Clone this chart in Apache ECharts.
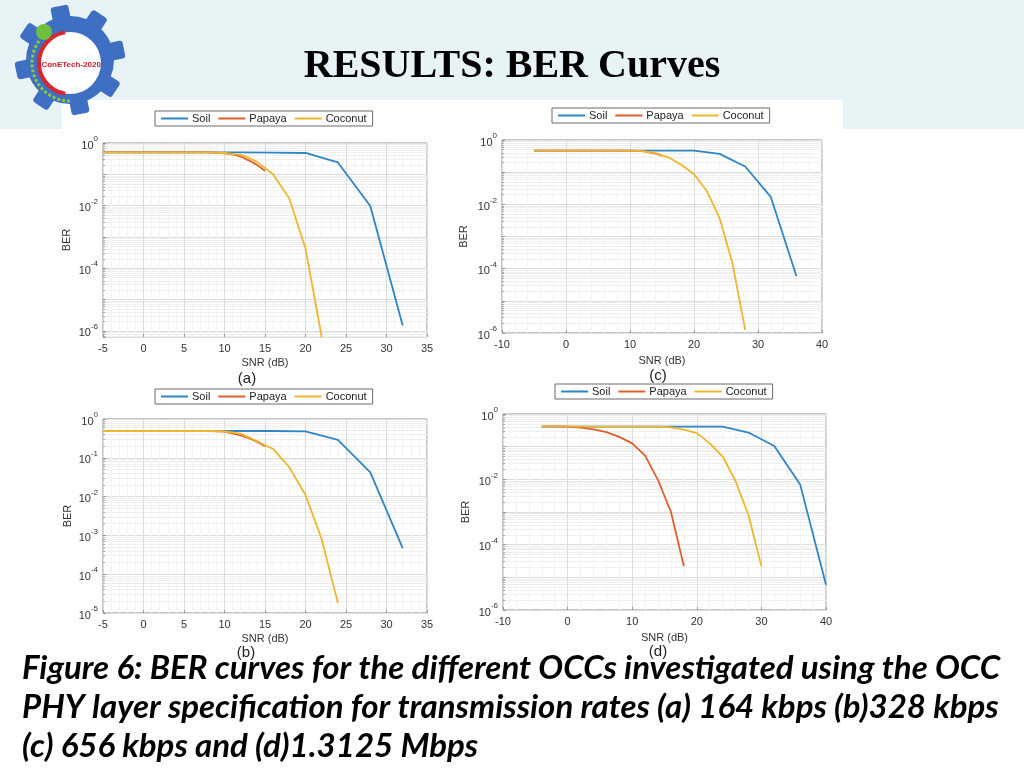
<!DOCTYPE html>
<html><head><meta charset="utf-8">
<script src="https://cdn.jsdelivr.net/npm/echarts@6/dist/echarts.min.js"></script>
<style>html,body{margin:0;padding:0;background:#fff}#c{width:1024px;height:768px}</style>
</head><body><div id="c"></div>
<script>
// ---------- data ----------
const seriesNames = ['Soil', 'Papaya', 'Coconut'];
const panelLabels = ['(a)', '(b)', '(c)', '(d)'];
const xTicksAB = [-5, 0, 5, 10, 15, 20, 25, 30, 35];
const xTicksCD = [-10, 0, 10, 20, 30, 40];

// (a) 164 kbps
const snrA_soil = [-5, 0, 4, 8, 12, 16, 20, 24, 28, 32];
const berA_soil = [0.5, 0.5, 0.5, 0.5, 0.5, 0.49, 0.48, 0.24, 0.0098, 1.5e-6];
const snrA_papaya = [-5, 0, 5, 8, 10, 11, 12, 13, 14, 15];
const berA_papaya = [0.5, 0.5, 0.5, 0.5, 0.47, 0.43, 0.37, 0.28, 0.2, 0.13];
const snrA_coconut = [-5, 0, 5, 8, 10, 12, 13, 14, 15, 16, 18, 20, 22];
const berA_coconut = [0.5, 0.5, 0.5, 0.5, 0.48, 0.42, 0.34, 0.25, 0.16, 0.1, 0.017, 4.3e-4, 6.4e-7];

// (b) 328 kbps
const snrB_soil = [-5, 0, 4, 8, 12, 16, 20, 24, 28, 32];
const berB_soil = [0.49, 0.49, 0.49, 0.49, 0.49, 0.49, 0.48, 0.29, 0.042, 4.7e-4];
const snrB_papaya = [-5, 0, 5, 8, 10, 12, 13, 14, 15];
const berB_papaya = [0.49, 0.49, 0.49, 0.49, 0.47, 0.38, 0.32, 0.26, 0.2];
const snrB_coconut = [-5, 0, 5, 8, 10, 12, 14, 15, 16, 18, 20, 22, 24];
const berB_coconut = [0.49, 0.49, 0.49, 0.49, 0.48, 0.42, 0.27, 0.21, 0.17, 0.057, 0.011, 8e-4, 1.8e-5];

// (c) 656 kbps
const snrC_soil = [-5, 0, 4, 8, 12, 16, 20, 24, 28, 32, 36];
const berC_soil = [0.47, 0.47, 0.47, 0.47, 0.47, 0.47, 0.47, 0.37, 0.15, 0.017, 5.9e-5];
const snrC_papaya = [-5, 0, 5, 10, 12, 14, 15];
const berC_papaya = [0.47, 0.47, 0.47, 0.47, 0.45, 0.38, 0.32];
const snrC_coconut = [-5, 0, 5, 10, 12, 14, 16, 18, 20, 22, 24, 26, 28];
const berC_coconut = [0.47, 0.47, 0.47, 0.47, 0.45, 0.39, 0.29, 0.17, 0.088, 0.026, 3.7e-3, 1.5e-4, 1.25e-6];

// (d) 1.3125 Mbps
const snrD_soil = [-4, 0, 4, 8, 12, 16, 20, 24, 28, 32, 36, 40];
const berD_soil = [0.41, 0.41, 0.41, 0.41, 0.41, 0.41, 0.41, 0.41, 0.27, 0.105, 7e-3, 5.9e-6];
const snrD_papaya = [-4, -2, 0, 2, 4, 6, 8, 10, 12, 14, 16, 18];
const berD_papaya = [0.42, 0.42, 0.41, 0.38, 0.34, 0.28, 0.2, 0.126, 0.053, 9.5e-3, 1e-3, 2.2e-5];
const snrD_coconut = [-4, 0, 4, 8, 12, 14, 16, 18, 20, 22, 24, 26, 28, 30];
const berD_coconut = [0.42, 0.42, 0.41, 0.41, 0.41, 0.41, 0.39, 0.33, 0.26, 0.126, 0.05, 8.9e-3, 8e-4, 2.2e-5];

const yMinA = 6.4e-7, yMinB = 1e-5, yMinC = 1e-6, yMinD = 1e-6;

// ---------- build ----------
const colors = ['#2f86c6', '#df5f2c', '#efb630'];
const pair = (xs, ys) => xs.map((x, i) => [x, ys[i]]);
const panels = [
  {grid: {left: 103, top: 143, width: 324, height: 194}, xr: xTicksAB, ymin: yMinA, even: true, legend: {left: 155, top: 111},
   data: [pair(snrA_soil, berA_soil), pair(snrA_papaya, berA_papaya), pair(snrA_coconut, berA_coconut)],
   lab: [247, 379], nameGapY: 31, nameGapX: 20},
  {grid: {left: 103, top: 419, width: 324, height: 194}, xr: xTicksAB, ymin: yMinB, even: false, legend: {left: 155, top: 389},
   data: [pair(snrB_soil, berB_soil), pair(snrB_papaya, berB_papaya), pair(snrB_coconut, berB_coconut)],
   lab: [246, 653], nameGapY: 30, nameGapX: 20},
  {grid: {left: 502, top: 140, width: 320, height: 193}, xr: xTicksCD, ymin: yMinC, even: true, legend: {left: 552, top: 108},
   data: [pair(snrC_soil, berC_soil), pair(snrC_papaya, berC_papaya), pair(snrC_coconut, berC_coconut)],
   lab: [658, 376], nameGapY: 33, nameGapX: 22},
  {grid: {left: 503, top: 414, width: 323, height: 196}, xr: xTicksCD, ymin: yMinD, even: true, legend: {left: 555, top: 384},
   data: [pair(snrD_soil, berD_soil), pair(snrD_papaya, berD_papaya), pair(snrD_coconut, berD_coconut)],
   lab: [658, 652], nameGapY: 32, nameGapX: 22}
];

const axisFont = '"Liberation Sans", Arial, sans-serif';
const grids = [], xAxes = [], yAxes = [], series = [], legends = [], graphics = [];

panels.forEach((p, gi) => {
  grids.push(Object.assign({show: true, backgroundColor: '#ffffff', borderColor: '#8c8c8c', borderWidth: 1}, p.grid));
  const xmin = p.xr[0], xmax = p.xr[p.xr.length - 1];
  xAxes.push({
    type: 'value', gridIndex: gi, min: xmin, max: xmax, interval: p.xr[1] - p.xr[0],
    name: 'SNR (dB)', nameLocation: 'middle', nameGap: p.nameGapX,
    nameTextStyle: {fontFamily: axisFont, fontSize: 11, color: '#333'},
    axisLine: {show: false, onZero: false}, axisTick: {show: true, inside: true, length: 3, lineStyle: {color: '#999'}},
    axisLabel: {fontFamily: axisFont, fontSize: 11, color: '#333', margin: 6},
    splitLine: {show: true, lineStyle: {color: '#dcdcdc', width: 1}},
    minorTick: {show: false, splitNumber: 5},
    minorSplitLine: {show: true, lineStyle: {color: '#f3f3f3', width: 1}}
  });
  yAxes.push({
    type: 'log', logBase: 10, gridIndex: gi, min: p.ymin, max: 1,
    name: 'BER', nameLocation: 'middle', nameGap: p.nameGapY, nameRotate: 90,
    nameTextStyle: {fontFamily: axisFont, fontSize: 11, color: '#333'},
    axisLine: {show: false, onZero: false}, axisTick: {show: true, inside: true, length: 3, lineStyle: {color: '#999'}},
    axisLabel: {
      margin: 5,
      formatter: (v) => {
        const e = Math.log10(v), r = Math.round(e);
        if (Math.abs(e - r) > 1e-6) return '';
        if (p.even && r % 2 !== 0) return '';
        return '{b|10}{s|' + r + '}';
      },
      rich: {
        b: {fontFamily: axisFont, fontSize: 11, color: '#333', lineHeight: 16, verticalAlign: 'bottom'},
        s: {fontFamily: axisFont, fontSize: 8, color: '#333', lineHeight: 9, verticalAlign: 'top'}
      }
    },
    splitLine: {show: true, lineStyle: {color: '#dcdcdc', width: 1}},
    minorTick: {show: true, splitNumber: 9, length: 2, lineStyle: {color: '#aaa'}},
    minorSplitLine: {show: true, lineStyle: {color: '#efefef', width: 1}}
  });
  p.data.forEach((d, si) => {
    series.push({
      type: 'line', name: seriesNames[si], xAxisIndex: gi, yAxisIndex: gi, data: d,
      showSymbol: false, symbol: 'none', clip: true,
      lineStyle: {color: colors[si], width: 1.8}, itemStyle: {color: colors[si]}, z: 3 + si
    });
  });
  legends.push({
    left: p.legend.left, top: p.legend.top, orient: 'horizontal', data: seriesNames,
    icon: 'rect', itemWidth: 27, itemHeight: 2, itemGap: 8,
    padding: [2, 6, 2, 6], backgroundColor: '#ffffff', borderColor: '#6a6a6a', borderWidth: 1,
    selectedMode: false,
    textStyle: {fontFamily: axisFont, fontSize: 11, color: '#222', padding: [0, 0, 0, -1]}
  });
  graphics.push({type: 'text', x: p.lab[0], y: p.lab[1], z: 50,
    style: {text: panelLabels[gi], fill: '#222', font: '15px ' + axisFont, align: 'center', verticalAlign: 'middle'}});
});

// slide decoration: header band, white figure panel, logo, title, caption
const deco = [
  {type: 'rect', z: -20, shape: {x: 0, y: 0, width: 1024, height: 129}, style: {fill: '#e8f3f6'}},
  {type: 'rect', z: -17, shape: {x: 62, y: 100, width: 781, height: 40}, style: {fill: '#ffffff'}}
];
// logo gear
const teeth = [];
for (let k = 0; k < 8; k++) {
  teeth.push({type: 'rect', rotation: k * Math.PI / 4 + 0.2, shape: {x: -9, y: -55, width: 18, height: 20, r: 3}, style: {fill: '#3f6fc2'}});
}
deco.push({
  type: 'group', x: 70, y: 60, z: -18,
  children: teeth.concat([
    {type: 'circle', shape: {cx: 0, cy: 0, r: 44}, style: {fill: '#3f6fc2'}},
    {type: 'circle', shape: {cx: 0, cy: 3, r: 31}, style: {fill: '#ffffff'}},
    {type: 'arc', shape: {cx: 0, cy: 3, r: 31, startAngle: Math.PI * 0.55, endAngle: Math.PI * 1.45}, style: {stroke: '#d8262c', lineWidth: 4, fill: null}},
    {type: 'arc', shape: {cx: 0, cy: 3, r: 38, startAngle: Math.PI * 0.5, endAngle: Math.PI * 1.2}, style: {stroke: '#8cc63f', lineWidth: 3, fill: null, lineDash: [3, 2]}},
    {type: 'circle', shape: {cx: -26, cy: -28, r: 8}, style: {fill: '#6cbf3f'}},
    {type: 'text', x: 0, y: 5, style: {text: 'IConETech-2020', fill: '#c8202a', font: 'bold 8px "Liberation Sans", Arial', align: 'center', verticalAlign: 'middle'}}
  ])
});
deco.push({type: 'text', x: 512, y: 67, z: 10,
  style: {text: 'RESULTS: BER Curves', fill: '#000', font: 'bold 40px "Liberation Serif", "Times New Roman", serif', align: 'center', verticalAlign: 'middle'}});
const captionLines = [
  'Figure 6: BER curves for the different OCCs investigated using the OCC',
  'PHY layer specification for transmission rates (a) 164 kbps (b)328 kbps',
  '(c) 656 kbps and (d)1.3125 Mbps'
];
captionLines.forEach((t, i) => {
  deco.push({type: 'text', x: 22, y: 668 + i * 39, z: 40,
    style: {text: t, fill: '#000', font: 'italic bold 33px Lato, "Open Sans", sans-serif', align: 'left', verticalAlign: 'middle'}});
});

const chart = echarts.init(document.getElementById('c'), null, {renderer: 'canvas'});
chart.setOption({
  backgroundColor: '#ffffff',
  animation: false,
  color: colors,
  grid: grids, xAxis: xAxes, yAxis: yAxes, series: series, legend: legends,
  graphic: deco.concat(graphics)
});
</script></body></html>
